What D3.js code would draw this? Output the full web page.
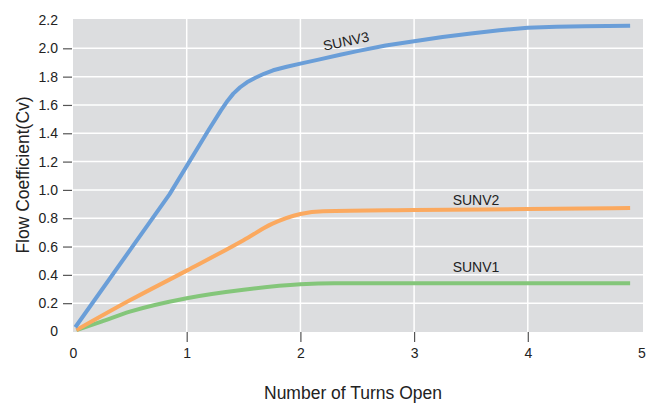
<!DOCTYPE html>
<html><head><meta charset="utf-8">
<script src="https://cdn.jsdelivr.net/npm/d3@7"></script>
<style>body{margin:0;background:#fff}svg{display:block;font-family:"Liberation Sans",Arial,sans-serif}</style>
</head><body><svg id="c" width="659" height="407"></svg>
<script>
const xTicks = [0,1,2,3,4,5];
const yTicks = [0,0.2,0.4,0.6,0.8,1.0,1.2,1.4,1.6,1.8,2.0,2.2];
const sunv3 = [[0.02,0.03],[0.85,0.97],[1.19,1.42],[1.3,1.56],[1.36,1.63],[1.41,1.68],[1.47,1.725],[1.53,1.76],[1.6,1.79],[1.68,1.82],[1.76,1.845],[1.88,1.87],[2,1.892],[2.16,1.92],[2.35,1.955],[2.5,1.98],[2.75,2.02],[3,2.05],[3.25,2.08],[3.5,2.105],[3.75,2.128],[4,2.145],[4.25,2.152],[4.5,2.156],[4.9,2.16]];
const sunv2 = [[0.03,0.01],[0.5,0.22],[1,0.43],[1.5,0.645],[1.75,0.76],[2,0.83],[2.2,0.85],[3,0.858],[4,0.865],[4.9,0.872]];
const sunv1 = [[0.03,0.01],[0.25,0.07],[0.5,0.14],[1,0.235],[1.5,0.295],[2,0.333],[2.3,0.34],[3,0.34],[4,0.34],[4.9,0.34]];
const seriesNames = ["SUNV1","SUNV2","SUNV3"];
const colors = ["#84c67a","#fba95f","#6a9ed8"];

const svg = d3.select("#c");
const L=73,R=643,T=19,B=332;
const x = d3.scaleLinear().domain([0,5]).range([73,641.5]);
const y = d3.scaleLinear().domain([0,2.2]).range([331.5,20]);

svg.append("rect").attr("x",L).attr("y",T).attr("width",R-L).attr("height",B-T).attr("fill","#dcdddf");
svg.append("g").selectAll("line").data(yTicks.filter(d=>d>0&&d<2.2)).join("line")
  .attr("x1",L).attr("x2",R).attr("y1",d=>y(d)).attr("y2",d=>y(d)).attr("stroke","#fff").attr("stroke-width",1.5);
svg.append("g").selectAll("line").data(xTicks.filter(d=>d>0&&d<5)).join("line")
  .attr("y1",T).attr("y2",B).attr("x1",d=>x(d)).attr("x2",d=>x(d)).attr("stroke","#fff").attr("stroke-width",1.5);

const FF = "Liberation Sans, Arial, sans-serif";
const yAxis = d3.axisLeft(y).tickValues(yTicks).tickSize(9).tickPadding(5)
  .tickFormat(d=>d===0?"0":d3.format(".1f")(d));
const gy = svg.append("g").attr("transform",`translate(${L-1},0)`).call(yAxis);
gy.select(".domain").remove();
gy.selectAll(".tick line").attr("stroke","#555").attr("stroke-width",1.2).filter(d=>d===0||d===2.2).remove();
gy.selectAll("text").attr("font-size",14).attr("fill","#222").attr("font-family",FF);

const xAxis = d3.axisBottom(x).tickValues(xTicks).tickSize(10).tickPadding(6).tickFormat(d3.format("d"));
const gx = svg.append("g").attr("transform",`translate(0,${B})`).call(xAxis);
gx.select(".domain").remove();
gx.selectAll(".tick line").attr("stroke","#555").attr("stroke-width",1.2).filter(d=>d===0||d===5).remove();
gx.selectAll("text").attr("font-size",14).attr("fill","#222").attr("font-family",FF);

const curves = [d3.curveMonotoneX, d3.curveMonotoneX, d3.curveLinear];
[sunv1,sunv2,sunv3].forEach((s,i)=>{
  const line = d3.line().x(d=>x(d[0])).y(d=>y(d[1])).curve(curves[i]);
  svg.append("path").datum(s).attr("d",line).attr("fill","none").attr("stroke",colors[i])
    .attr("stroke-width",4).attr("stroke-linecap","butt").attr("stroke-linejoin","round");
});

svg.append("text").attr("x",476).attr("y",272).attr("text-anchor","middle").attr("font-size",14).attr("fill","#222").text(seriesNames[0]);
svg.append("text").attr("x",476).attr("y",205).attr("text-anchor","middle").attr("font-size",14).attr("fill","#222").text(seriesNames[1]);
svg.append("text").attr("transform","translate(347,46) rotate(-12)").attr("text-anchor","middle").attr("font-size",14).attr("fill","#222").text(seriesNames[2]);

svg.append("text").attr("transform","translate(29,175) rotate(-90)").attr("text-anchor","middle").attr("font-size",17.5).attr("fill","#222").text("Flow Coefficient(Cv)");
svg.append("text").attr("x",353).attr("y",399).attr("text-anchor","middle").attr("font-size",17.5).attr("fill","#222").text("Number of Turns Open");
</script></body></html>
